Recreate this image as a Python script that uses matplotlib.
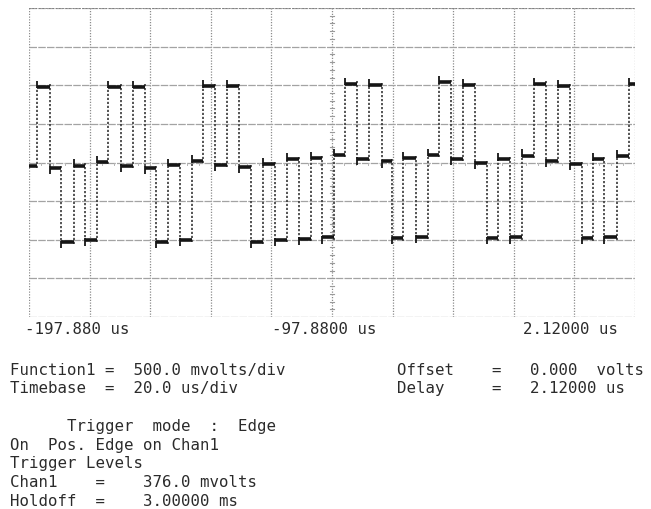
import matplotlib
matplotlib.use("Agg")
import matplotlib.pyplot as plt

# ---- data ----
# transition instants (us) of the 3-level waveform
edge_times = [-195.34, -190.95, -187.32, -183.03, -179.40, -175.54, -171.81, -167.62,
              -163.66, -159.60, -155.97, -152.01, -148.05, -144.18, -140.36, -136.50,
              -132.44, -128.47, -124.71, -120.55, -116.69, -112.83, -108.87, -104.91,
              -101.08, -97.22, -93.59, -89.73, -85.67, -81.48, -77.98, -74.35,
              -70.26, -66.10, -62.47, -58.71, -54.55, -50.69, -46.83, -43.00,
              -39.14, -35.28, -31.22, -27.26, -23.20, -19.34, -15.48, -11.85,
              -8.02, -3.93, 0.0]
# level (V) held between transitions (len = len(edge_times) + 1)
levels = [-0.045, 0.98, -0.07, -1.03, -0.04, -1.00, 0.01, 0.98,
          -0.045, 0.98, -0.07, -1.03, -0.03, -1.00, 0.02, 0.99,
          -0.03, 0.99, -0.06, -1.03, -0.02, -1.00, 0.04, -0.99,
          0.06, -0.97, 0.10, 1.02, 0.05, 1.00, 0.015, -0.98,
          0.06, -0.96, 0.10, 1.04, 0.045, 1.00, -0.006, -0.98,
          0.045, -0.97, 0.09, 1.02, 0.02, 0.99, -0.02, -0.98,
          0.04, -0.97, 0.08, 1.02]

t_left, t_right = -197.88, 2.12
time_div = 20.0
volt_div = 0.5
n_vdiv = 8

x_labels = ["-197.880 us", "-97.8800 us", "2.12000 us"]

info_lines = [
    "Function1 =  500.0 mvolts/div",
    "Timebase  =  20.0 us/div",
]
info_right = [
    "Offset    =   0.000  volts",
    "Delay     =   2.12000 us",
]
trigger_lines = [
    "      Trigger  mode  :  Edge",
    "On  Pos. Edge on Chan1",
    "Trigger Levels",
    "Chan1    =    376.0 mvolts",
    "Holdoff  =    3.00000 ms",
]

# ---- figure ----
W, H = 651, 510
fig = plt.figure(figsize=(W / 100, H / 100), dpi=100)
fig.patch.set_facecolor("white")
ax = fig.add_axes([29 / W, 1 - 318 / H, (635 - 29) / W, (318 - 9) / H])
ax.set_xlim(t_left, t_right)
vmax = n_vdiv / 2 * volt_div
ax.set_ylim(-vmax, vmax)
ax.axis("off")

# graticule
k = 0
while t_left + k * time_div <= t_right + 1e-6:
    ax.axvline(t_left + k * time_div, color="#8c8c8c", lw=0.9, ls=(0, (1, 1.2)), zorder=1)
    k += 1
for j in range(n_vdiv + 1):
    y = -vmax + j * volt_div
    ax.axhline(y, color="#a3a3a3", lw=0.9, ls=(0, (6, 1)), zorder=1)
ax.axhline(vmax, color="#7a7a7a", lw=1.2, ls=(0, (1, 1)), zorder=1)

# minor ticks on centre lines
t_mid = (t_left + t_right) / 2
sub_t = time_div / 5
sub_v = volt_div / 5
i = 1
while t_left + i * sub_t < t_right:
    x = t_left + i * sub_t
    ax.plot([x, x], [-0.03, 0.0], color="#b5b5b5", lw=0.7, zorder=1)
    i += 1
for j in range(1, n_vdiv * 5):
    y = -vmax + j * sub_v
    ax.plot([t_mid - 0.5, t_mid + 0.5], [y, y], color="#9a9a9a", lw=0.8, zorder=1)

# waveform
bounds = [t_left] + edge_times + [t_right]
trace_col = "#151515"
ovs = 0.08
for s in range(len(levels)):
    ax.plot([bounds[s], bounds[s + 1]], [levels[s], levels[s]],
            color=trace_col, lw=2.6, solid_capstyle="butt", zorder=3)
for e, t in enumerate(edge_times):
    a, b = levels[e], levels[e + 1]
    sgn = 1 if b > a else -1
    ax.plot([t, t], [a - sgn * 0.03, b], color="#383838", lw=1.2,
            ls=(0, (1.3, 1.1)), zorder=2)
    ax.plot([t, t], [b - sgn * 0.02, b + sgn * ovs], color=trace_col, lw=1.3,
            solid_capstyle="butt", zorder=3)

# ---- text ----
mono = "DejaVu Sans Mono"
fs = 11.3
tc = "#2b2b2b"


def put(xpx, ybase, s):
    fig.text(xpx / W, 1 - ybase / H, s, family=mono, size=fs, color=tc,
             ha="left", va="baseline")


put(25, 334, x_labels[0])
put(272, 334, x_labels[1])
put(523, 334, x_labels[2])

put(10, 375, info_lines[0])
put(10, 393, info_lines[1])
put(397, 375, info_right[0])
put(397, 393, info_right[1])

for n, s in enumerate(trigger_lines):
    put(10, 431 + 18.7 * n, s)

fig.savefig("out.png", dpi=100, facecolor="white")
